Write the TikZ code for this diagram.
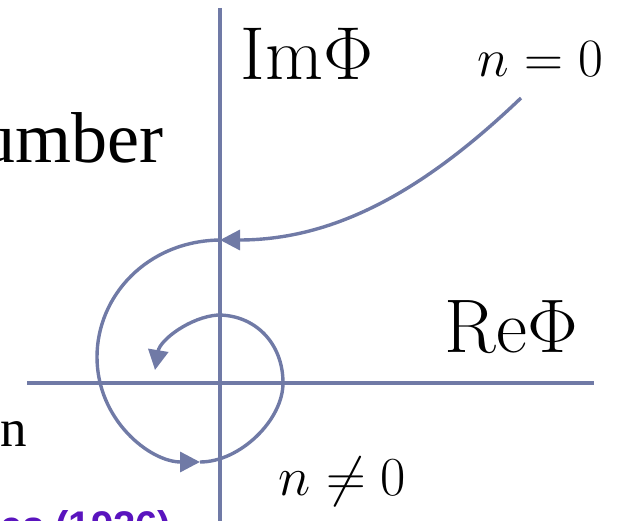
\RequirePackage{fix-cm}
\documentclass[tikz,border=0pt]{standalone}
\usepackage{fontspec}
\newfontfamily\slideserif{Liberation Serif}
\newfontfamily\slidesans{Liberation Sans}
\usetikzlibrary{arrows.meta}
\definecolor{curveblue}{RGB}{112,122,166}
\definecolor{slidepurple}{RGB}{90,20,190}
\begin{document}
\begin{tikzpicture}[x=1pt, y=-1pt, line width=3.4pt,
  tip/.style={-{Triangle[length=20pt, width=20pt]}}]
  \useasboundingbox (0,0) rectangle (618,521);
  \clip (0,0) rectangle (618,521);
  \draw[curveblue] (220,8) -- (220,521);
  \draw[curveblue] (27,383) -- (594,383);
  \node[anchor=base west, inner sep=0pt, font=\fontsize{75}{80}\selectfont] (imphi) at (239,80) {$\mathrm{Im}\Phi$};
  \node[anchor=base west, inner sep=0pt, font=\fontsize{76}{80}\selectfont] (rephi) at (443,352) {$\mathrm{Re}\Phi$};
  \node[anchor=base west, inner sep=0pt, font=\fontsize{54}{60}\selectfont] (nzero) at (476,77) {$n=0$};
  \node[anchor=base west, inner sep=0pt, font=\fontsize{55}{60}\selectfont] (nnonzero) at (277,495) {$n\neq0$};
  \node[anchor=base east, inner sep=0pt, font=\slideserif\fontsize{72}{80}\selectfont] (number) at (165,163) {umber};
  \node[anchor=base east, inner sep=0pt, font=\slideserif\fontsize{53}{60}\selectfont] (nfrag) at (29,446) {n};
  \node[anchor=base east, inner sep=0pt, text=slidepurple, font=\slidesans\bfseries\fontsize{40}{44}\selectfont] (year) at (173,539) {es (1926)};
  % 나선형 경로
  \draw[curveblue, tip] (521,98) .. controls (430,185) and (340,240) .. (220,240);
  \draw[curveblue, tip] (220,240) .. controls (147,241) and (97,296) .. (97,357)
    .. controls (97,420) and (150,462) .. (200,462);
  \draw[curveblue] (200,462) .. controls (240,462) and (283,420) .. (283,383)
    .. controls (283,343) and (255,315) .. (218,315);
  \draw[curveblue, tip] (218,315) .. controls (190,317) and (160,340) .. (155,370);
\end{tikzpicture}
\end{document}
